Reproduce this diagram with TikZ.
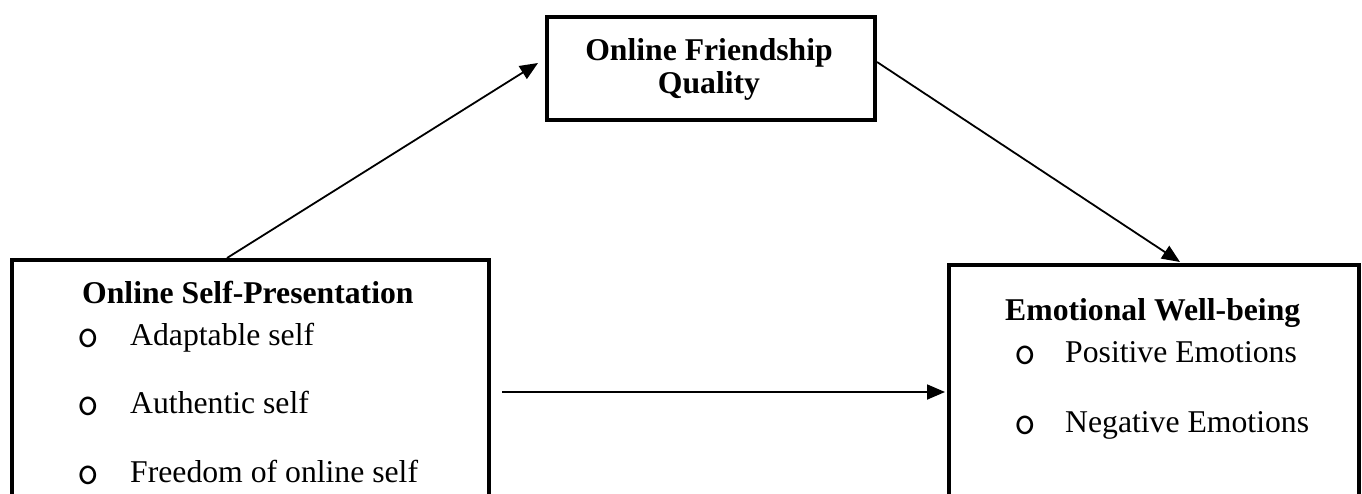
\documentclass[tikz,border=0pt]{standalone}
\usepackage{fontspec}
\setmainfont{Liberation Serif}
\usetikzlibrary{arrows.meta,calc}
\begin{document}
\begin{tikzpicture}[x=1pt,y=-1pt,
  box/.style={draw, line width=4pt, inner sep=0pt, anchor=north west},
  link/.style={line width=1.8pt, -{Triangle[length=18pt,width=15pt]}},
  txt/.style={inner sep=0pt, anchor=base west, font=\fontsize{31.7}{38}\selectfont},
  head/.style={txt, font=\fontsize{31.7}{38}\selectfont\bfseries},
  bul/.style={txt, font=\fontsize{42}{48}\selectfont\ttfamily}]
\useasboundingbox (0,0) rectangle (1362,493);
\clip (0,0) rectangle (1362,493);

% boxes
\node[box, minimum width=477pt, minimum height=280pt] (osp) at (10,258) {};
\node[box, minimum width=328pt, minimum height=103pt] (ofq) at (545,15) {};
\node[box, minimum width=410pt, minimum height=280pt] (ewb) at (947,263) {};

% mediator
\node[head, anchor=base] (ofqa) at (709,60) {Online Friendship};
\node[head, anchor=base] (ofqb) at (709,93) {Quality};

% predictor
\node[head] (osph) at (82,303) {Online Self-Presentation};
\node[bul] (ospb1) at (77,347) {o};
\node[txt] (ospt1) at (130,345) {Adaptable self};
\node[bul] (ospb2) at (77,415) {o};
\node[txt] (ospt2) at (130,413) {Authentic self};
\node[bul] (ospb3) at (77,484) {o};
\node[txt] (ospt3) at (130,482) {Freedom of online self};

% outcome
\node[head] (ewbh) at (1005,320) {Emotional Well-being};
\node[bul] (ewbb1) at (1014,364) {o};
\node[txt] (ewbt1) at (1065,362) {Positive Emotions};
\node[bul] (ewbb2) at (1014,434) {o};
\node[txt] (ewbt2) at (1065,432) {Negative Emotions};

% paths
\draw[link] ($(osp.north west)+(217,0)$) -- ($(ofq.north west)+(-7,48)$);
\draw[link] ($(ofq.north east)+(0,47)$) -- ($(ewb.north west)+(233,-1)$);
\draw[link] ($(osp.north east)+(11,134)$) -- ($(ewb.north west)+(-2,129)$);
\end{tikzpicture}
\end{document}
